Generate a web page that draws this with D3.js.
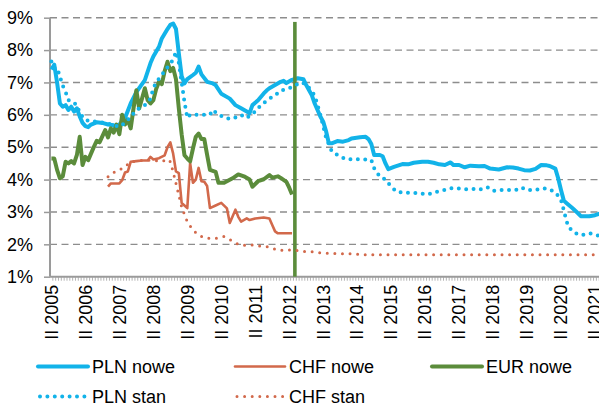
<!DOCTYPE html>
<html>
<head>
<meta charset="utf-8">
<script src="https://cdn.jsdelivr.net/npm/d3@7"></script>
<style>
  body { margin: 0; background: #fff; }
  svg { display: block; font-family: "Liberation Sans", Arial, sans-serif; }
</style>
</head>
<body>
<svg id="chart"></svg>
<script>
const width = 599,
  height = 406;

// Months run from II 2005 (Feb) onwards, one category per month.
const firstMonth = "2005-02",
  lastMonth = "2021-06";

const yTicks = [1, 2, 3, 4, 5, 6, 7, 8, 9];

// Values, [month, percent]
const plnNowe = [
  ["2005-02", 7.4], ["2005-03", 7.55], ["2005-04", 7.0], ["2005-05", 6.35], ["2005-06", 6.25],
  ["2005-07", 6.3], ["2005-08", 6.15], ["2005-09", 6.25], ["2005-10", 6.1], ["2005-11", 6.2],
  ["2005-12", 5.95], ["2006-01", 5.75], ["2006-02", 5.65], ["2006-03", 5.62], ["2006-04", 5.7],
  ["2006-06", 5.77], ["2006-08", 5.75], ["2006-10", 5.7], ["2006-12", 5.68], ["2007-01", 5.58],
  ["2007-02", 5.7], ["2007-04", 5.9], ["2007-06", 6.35], ["2007-08", 6.7], ["2007-11", 7.07],
  ["2008-01", 7.6], ["2008-02", 7.8], ["2008-04", 8.1], ["2008-05", 8.36], ["2008-07", 8.65],
  ["2008-08", 8.78], ["2008-09", 8.82], ["2008-10", 8.65], ["2008-11", 7.9], ["2008-12", 7.2],
  ["2009-01", 6.97], ["2009-02", 7.1], ["2009-04", 7.23], ["2009-05", 7.3], ["2009-06", 7.49],
  ["2009-07", 7.25], ["2009-09", 7.02], ["2009-11", 6.97], ["2009-12", 6.92], ["2010-02", 6.65],
  ["2010-05", 6.5], ["2010-07", 6.3], ["2010-09", 6.2], ["2010-11", 6.1], ["2010-12", 6.05],
  ["2011-01", 6.3], ["2011-03", 6.45], ["2011-05", 6.66], ["2011-06", 6.75], ["2011-07", 6.82],
  ["2011-09", 6.92], ["2011-11", 7.02], ["2011-12", 7.05], ["2012-01", 6.98], ["2012-03", 7.08],
  ["2012-05", 7.13], ["2012-07", 7.1], ["2012-08", 6.92], ["2012-10", 6.6], ["2012-11", 6.35],
  ["2013-01", 5.95], ["2013-02", 5.79], ["2013-03", 5.5], ["2013-04", 5.12], ["2013-05", 5.12],
  ["2013-07", 5.19], ["2013-09", 5.17], ["2013-11", 5.22], ["2013-12", 5.27], ["2014-03", 5.31],
  ["2014-05", 5.32], ["2014-06", 5.25], ["2014-07", 5.1], ["2014-08", 4.76], ["2014-10", 4.76],
  ["2014-11", 4.72], ["2014-12", 4.5], ["2015-01", 4.32], ["2015-03", 4.39], ["2015-06", 4.48],
  ["2015-08", 4.47], ["2015-10", 4.52], ["2016-01", 4.55], ["2016-03", 4.55], ["2016-05", 4.52],
  ["2016-07", 4.47], ["2016-09", 4.45], ["2016-11", 4.53], ["2016-12", 4.45], ["2017-02", 4.45],
  ["2017-04", 4.38], ["2017-06", 4.43], ["2017-09", 4.41], ["2017-11", 4.42], ["2018-01", 4.34],
  ["2018-04", 4.31], ["2018-07", 4.38], ["2018-09", 4.37], ["2018-11", 4.34], ["2019-01", 4.29],
  ["2019-03", 4.28], ["2019-05", 4.33], ["2019-07", 4.45], ["2019-09", 4.44], ["2019-10", 4.42],
  ["2019-12", 4.34], ["2020-01", 4.04], ["2020-02", 3.68], ["2020-03", 3.35], ["2020-04", 3.27],
  ["2020-06", 3.12], ["2020-08", 2.96], ["2020-09", 2.87], ["2020-12", 2.87], ["2021-02", 2.9],
  ["2021-04", 2.96]
];

const chfNowe = [
  ["2006-10", 3.78], ["2006-11", 3.88], ["2006-12", 3.88], ["2007-02", 3.88], ["2007-03", 3.98],
  ["2007-04", 4.22], ["2007-05", 4.25], ["2007-06", 4.55], ["2007-08", 4.57], ["2007-10", 4.59],
  ["2007-12", 4.59], ["2008-01", 4.7], ["2008-02", 4.62], ["2008-04", 4.66], ["2008-06", 4.75],
  ["2008-07", 5.0], ["2008-08", 5.15], ["2008-09", 4.8], ["2008-10", 4.25], ["2008-11", 4.2],
  ["2008-12", 3.28], ["2009-01", 3.2], ["2009-02", 3.12], ["2009-03", 4.51], ["2009-04", 3.9],
  ["2009-05", 4.0], ["2009-06", 4.36], ["2009-07", 3.95], ["2009-08", 3.93], ["2009-09", 3.8],
  ["2009-10", 3.12], ["2009-12", 3.2], ["2010-02", 3.28], ["2010-04", 3.11], ["2010-05", 2.66],
  ["2010-07", 3.07], ["2010-08", 2.85], ["2010-09", 2.7], ["2010-11", 2.8], ["2010-12", 2.75],
  ["2011-02", 2.8], ["2011-05", 2.83], ["2011-07", 2.8], ["2011-08", 2.6], ["2011-09", 2.4],
  ["2011-10", 2.34], ["2012-03", 2.34]
];

const eurNowe = [
  ["2005-02", 4.65], ["2005-03", 4.65], ["2005-04", 4.3], ["2005-05", 4.04], ["2005-06", 4.1],
  ["2005-07", 4.55], ["2005-08", 4.5], ["2005-09", 4.57], ["2005-10", 4.5], ["2005-11", 4.76],
  ["2005-12", 5.32], ["2006-01", 4.45], ["2006-02", 4.7], ["2006-03", 4.6], ["2006-05", 5.01],
  ["2006-06", 5.2], ["2006-07", 5.15], ["2006-09", 5.53], ["2006-10", 5.3], ["2006-11", 5.58],
  ["2006-12", 5.45], ["2007-01", 5.7], ["2007-02", 5.4], ["2007-03", 6.0], ["2007-04", 5.7],
  ["2007-05", 5.85], ["2007-06", 5.58], ["2007-07", 6.2], ["2007-08", 6.76], ["2007-09", 6.2],
  ["2007-10", 6.5], ["2007-11", 6.82], ["2007-12", 6.45], ["2008-01", 6.35], ["2008-02", 6.45],
  ["2008-03", 6.8], ["2008-04", 7.02], ["2008-05", 6.95], ["2008-06", 7.35], ["2008-07", 7.64],
  ["2008-08", 7.35], ["2008-09", 7.45], ["2008-10", 7.1], ["2008-11", 6.2], ["2008-12", 5.4],
  ["2009-01", 4.75], ["2009-02", 4.65], ["2009-03", 4.56], ["2009-04", 4.96], ["2009-05", 5.32],
  ["2009-06", 5.42], ["2009-07", 5.25], ["2009-08", 5.25], ["2009-09", 4.76], ["2009-10", 4.3],
  ["2009-12", 4.24], ["2010-01", 3.9], ["2010-03", 3.9], ["2010-06", 4.04], ["2010-08", 4.16],
  ["2010-10", 4.1], ["2010-12", 4.0], ["2011-01", 3.78], ["2011-03", 3.95], ["2011-05", 4.01],
  ["2011-07", 4.14], ["2011-08", 4.06], ["2011-10", 4.1], ["2011-11", 4.05], ["2012-01", 3.93],
  ["2012-02", 3.75], ["2012-03", 3.54]
];

// vertical EUR bar in IV 2012
const eurBar = ["2012-04", 8.87];

const plnStan = [
  ["2005-02", 7.65], ["2005-03", 7.45], ["2005-04", 7.45], ["2005-05", 7.18], ["2005-06", 6.9],
  ["2005-07", 6.71], ["2005-08", 6.46], ["2005-09", 6.38], ["2005-11", 6.32], ["2005-12", 6.05],
  ["2006-02", 5.84], ["2006-04", 5.8], ["2006-07", 5.78], ["2006-10", 5.73], ["2006-12", 5.68],
  ["2007-02", 5.63], ["2007-04", 5.75], ["2007-06", 5.94], ["2007-08", 6.15], ["2007-11", 6.3],
  ["2008-01", 6.5], ["2008-02", 6.82], ["2008-03", 7.0], ["2008-05", 7.23], ["2008-06", 7.35],
  ["2008-08", 7.59], ["2008-09", 7.7], ["2008-10", 7.95], ["2008-11", 7.6], ["2008-12", 7.0],
  ["2009-01", 6.4], ["2009-02", 5.9], ["2009-03", 6.0], ["2009-04", 6.0], ["2009-06", 6.0],
  ["2009-10", 6.0], ["2009-11", 6.15], ["2010-01", 6.0], ["2010-05", 5.87], ["2010-07", 5.92],
  ["2010-09", 6.0], ["2010-11", 5.9], ["2011-02", 6.1], ["2011-04", 6.3], ["2011-07", 6.5],
  ["2011-09", 6.6], ["2011-11", 6.75], ["2012-02", 6.82], ["2012-04", 6.9], ["2012-06", 7.0],
  ["2012-08", 6.95], ["2012-11", 6.6], ["2013-01", 6.0], ["2013-03", 5.3], ["2013-05", 4.88],
  ["2013-07", 4.76], ["2013-10", 4.63], ["2014-02", 4.63], ["2014-05", 4.62], ["2014-07", 4.6],
  ["2014-08", 4.35], ["2014-10", 4.09], ["2014-12", 4.0], ["2015-02", 3.78], ["2015-04", 3.62],
  ["2015-07", 3.59], ["2015-10", 3.59], ["2015-12", 3.58], ["2016-03", 3.54], ["2016-06", 3.62],
  ["2016-09", 3.68], ["2016-11", 3.73], ["2017-01", 3.73], ["2017-04", 3.7], ["2017-07", 3.71],
  ["2017-09", 3.68], ["2017-12", 3.76], ["2018-02", 3.65], ["2018-05", 3.68], ["2018-07", 3.68],
  ["2018-10", 3.68], ["2018-12", 3.76], ["2019-02", 3.68], ["2019-05", 3.68], ["2019-08", 3.73],
  ["2019-10", 3.7], ["2019-12", 3.6], ["2020-01", 3.5], ["2020-02", 3.37], ["2020-03", 3.05],
  ["2020-04", 2.7], ["2020-05", 2.5], ["2020-07", 2.35], ["2020-09", 2.28], ["2020-12", 2.34],
  ["2021-02", 2.3], ["2021-04", 2.25]
];

const chfStan = [
  ["2006-10", 4.09], ["2006-12", 4.22], ["2007-02", 4.3], ["2007-04", 4.4], ["2007-06", 4.55],
  ["2007-08", 4.57], ["2007-11", 4.6], ["2008-02", 4.6], ["2008-05", 4.55], ["2008-07", 4.63],
  ["2008-08", 4.55], ["2008-09", 4.24], ["2008-10", 3.88], ["2008-11", 3.52], ["2008-12", 3.16],
  ["2009-01", 2.92], ["2009-02", 2.7], ["2009-04", 2.44], ["2009-06", 2.29], ["2009-08", 2.2],
  ["2009-10", 2.18], ["2009-12", 2.18], ["2010-03", 2.24], ["2010-06", 2.1], ["2010-08", 2.0],
  ["2010-10", 1.97], ["2011-01", 1.98], ["2011-03", 1.95], ["2011-06", 1.93], ["2011-08", 1.88],
  ["2011-10", 1.82], ["2012-01", 1.82], ["2012-03", 1.83], ["2012-05", 1.81], ["2012-07", 1.78],
  ["2012-10", 1.77], ["2013-01", 1.74], ["2013-04", 1.72], ["2013-07", 1.71], ["2013-10", 1.71],
  ["2014-01", 1.7], ["2014-04", 1.68], ["2021-06", 1.68]
];

const series = [
  { name: "PLN nowe", data: plnNowe, color: "#12b3e9", width: 4, dash: null },
  { name: "CHF nowe", data: chfNowe, color: "#d2694b", width: 2.6, dash: null },
  { name: "EUR nowe", data: eurNowe, color: "#5b8c3b", width: 4, dash: null },
  { name: "PLN stan", data: plnStan, color: "#12b3e9", width: 4, dash: "0 7.4" },
  { name: "CHF stan", data: chfStan, color: "#d2694b", width: 3, dash: "0 7.6" }
];

const parseMonth = d3.timeParse("%Y-%m");
const months = d3.timeMonth.range(parseMonth(firstMonth), d3.timeMonth.offset(parseMonth(lastMonth), 1))
  .map(d3.timeFormat("%Y-%m"));

const svg = d3.select("#chart")
  .attr("width", width)
  .attr("height", height);

const plot = { left: 50, top: 17.7, bottom: 276.7, step: 2.831 };

const x = d3.scaleBand()
  .domain(months)
  .range([plot.left, plot.left + months.length * plot.step])
  .padding(0);
const xc = m => x(m) + x.bandwidth() / 2;

const y = d3.scaleLinear()
  .domain([1, 9])
  .range([plot.bottom, plot.top]);

// dashed horizontal grid
svg.append("g")
  .selectAll("line")
  .data(yTicks.filter(t => t > 1))
  .enter()
  .append("line")
  .attr("x1", plot.left)
  .attr("x2", width)
  .attr("y1", d => y(d))
  .attr("y2", d => y(d))
  .attr("stroke", "#8d8d8d")
  .attr("stroke-width", 1.4)
  .attr("stroke-dasharray", "7 4.5");

// y axis
const yAxis = svg.append("g")
  .attr("transform", "translate(" + plot.left + ",0)")
  .call(d3.axisLeft(y).tickValues(yTicks).tickSize(6).tickPadding(11).tickFormat(d => d + "%"));
yAxis.select(".domain").remove();
yAxis.selectAll(".tick line").attr("stroke", "#9a9a9a").attr("stroke-width", 1.5);
yAxis.selectAll(".tick text")
  .attr("fill", "#000")
  .style("font-size", "18px")
  .style("font-family", "'Liberation Sans', Arial, sans-serif");
svg.append("line")
  .attr("x1", plot.left).attr("x2", plot.left)
  .attr("y1", plot.top).attr("y2", plot.bottom)
  .attr("stroke", "#9a9a9a")
  .attr("stroke-width", 2);

// x axis: a minor tick between every month, labels each February
const xAxis = svg.append("g")
  .attr("transform", "translate(0," + plot.bottom + ")");
xAxis.append("line")
  .attr("x1", plot.left).attr("x2", width)
  .attr("stroke", "#9a9a9a")
  .attr("stroke-width", 2);
xAxis.selectAll("line.tick")
  .data(months)
  .enter()
  .append("line")
  .attr("class", "tick")
  .attr("x1", d => x(d) + x.bandwidth())
  .attr("x2", d => x(d) + x.bandwidth())
  .attr("y1", 0)
  .attr("y2", 4)
  .attr("stroke", "#a0a0a0")
  .attr("stroke-width", 0.8);
xAxis.selectAll("text")
  .data(months.filter(m => m.endsWith("-02")))
  .enter()
  .append("text")
  .attr("transform", d => "translate(" + xc(d) + ",8) rotate(-90)")
  .attr("text-anchor", "end")
  .attr("dy", "0.35em")
  .style("font-size", "18px")
  .attr("fill", "#000")
  .text(d => "II " + d.slice(0, 4));

// lines
const line = d3.line()
  .x(d => xc(d[0]))
  .y(d => y(d[1]));

const lines = svg.append("g");
series.forEach((s, i) => {
  lines.append("path")
    .datum(s.data)
    .attr("fill", "none")
    .attr("stroke", s.color)
    .attr("stroke-width", s.width)
    .attr("stroke-linejoin", "round")
    .attr("stroke-linecap", s.dash ? "round" : "butt")
    .attr("stroke-dasharray", s.dash)
    .attr("d", line);
  if (s.name === "EUR nowe") {
    lines.append("line")
      .attr("x1", xc(eurBar[0])).attr("x2", xc(eurBar[0]))
      .attr("y1", y(eurBar[1])).attr("y2", plot.bottom)
      .attr("stroke", s.color)
      .attr("stroke-width", 3.6);
  }
});

// legend, two rows
const legendCols = [38, 235, 432],
  legendRows = [366.5, 396.5];
const legend = svg.append("g")
  .selectAll("g")
  .data(series)
  .enter()
  .append("g")
  .attr("transform", (d, i) => "translate(" + legendCols[i % 3] + "," + legendRows[Math.floor(i / 3)] + ")");
legend.append("line")
  .attr("x1", d => d.dash ? 2 : 0)
  .attr("x2", 50)
  .attr("stroke", d => d.color)
  .attr("stroke-width", d => d.width)
  .attr("stroke-linecap", "round")
  .attr("stroke-dasharray", d => d.dash);
legend.append("text")
  .attr("x", 54)
  .attr("dy", "0.35em")
  .style("font-size", "18px")
  .attr("fill", "#000")
  .text(d => d.name);
</script>
</body>
</html>
